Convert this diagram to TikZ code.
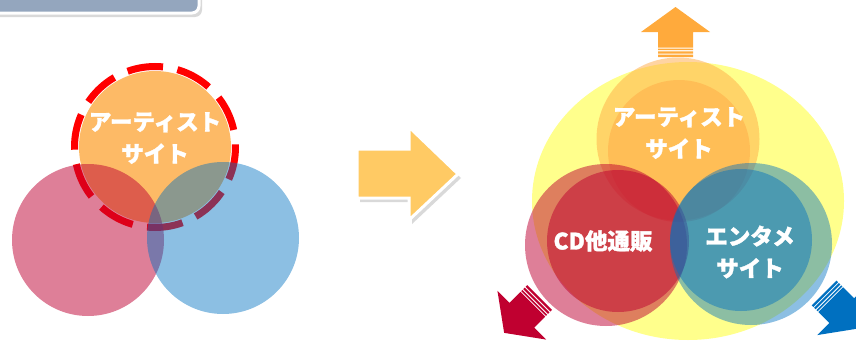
\documentclass[tikz,border=0pt]{standalone}
\usepackage{fontspec}
\usetikzlibrary{shadows,shapes.geometric}
\newfontfamily\jpfont[BoldFeatures={FakeBold=1.5}]{Noto Sans CJK JP}
\definecolor{cdred}{RGB}{190,0,50}
\definecolor{entblue}{RGB}{0,112,192}
\definecolor{artorange}{RGB}{252,140,0}
\definecolor{artlight}{RGB}{255,170,70}
\definecolor{paleyellow}{RGB}{255,255,140}
\definecolor{slate}{RGB}{148,166,190}
\definecolor{gold}{RGB}{255,202,100}
\definecolor{uporange}{RGB}{255,170,60}
\definecolor{downred}{RGB}{192,0,48}
\definecolor{downblue}{RGB}{0,112,192}
\tikzset{
    every node/.style={inner sep=0pt, outer sep=0pt},
    disc/.style={circle, minimum size=#1},
    lbl/.style={font=\jpfont\bfseries\fontsize{22.5}{32}\selectfont, text=white, align=center},
    art/.style={fill=artorange, fill opacity=0.6},
    artb/.style={fill=artlight, fill opacity=0.5},
    cd/.style={fill=cdred, fill opacity=0.5},
    ent/.style={fill=entblue, fill opacity=0.45},
    focus/.style={draw=red, line width=7pt, dash pattern=on 36pt off 14.6pt, dash phase=33.4pt},
    shade/.style={drop shadow={opacity=0.3, shadow xshift=3pt, shadow yshift=-4pt}}
}
% striped arrow: colour, tail x, tail y, angle
\newcommand\outarrow[4]{%
  \begin{scope}[shift={(#2,#3)}, rotate=#4]
    \fill[#1] (9.5,-17.5) -- (25,-17.5) -- (25,-34.5) -- (50,0) -- (25,34.5)
      -- (25,17.5) -- (9.5,17.5) -- cycle;
    \fill[#1] (0,-17.5) rectangle (2.3,17.5) (3.4,-17.5) rectangle (5.6,17.5)
      (6.8,-17.5) rectangle (8.4,17.5);
  \end{scope}}

\begin{document}
\begin{tikzpicture}[x=1pt, y=-1pt]
\useasboundingbox (0,0) rectangle (856,340);
\clip (0,0) rectangle (856,340);

% title box, cut at the top
\draw[fill=slate, draw=white, line width=3pt, rounded corners=7pt, shade]
  (-20,-30) rectangle (199,13);

% before
\node[disc=161pt, focus] (ring) at (155,147) {};
\node[disc=152pt, art] (art1) at (155,147) {};
\node[disc=152pt, cd] (cd1) at (88,240) {};
\node[disc=152pt, ent] (ent1) at (223,238) {};
\node[lbl] (t1) at (155,138) {アーティスト\\サイト};

% big arrow
\draw[fill=gold, draw=white, line width=3pt, shade]
  (357,149) -- (409,149) -- (409,127) -- (458,174) -- (409,220) -- (409,198)
  -- (357,198) -- cycle;

% after
\node[ellipse, minimum width=312pt, minimum height=278pt, fill=paleyellow] (all) at (688,201) {};
\node[disc=163pt, artb] (art2) at (678,139) {};
\node[disc=142pt, artb] (art3) at (679,151) {};
\node[disc=162pt, cd] (cd2) at (606,245) {};
\node[disc=142pt, cd] (cd3) at (618,241) {};
\node[disc=162pt, ent] (ent2) at (751,244) {};
\node[disc=142pt, ent] (ent3) at (741,240) {};
\node[lbl] (t2) at (679,133) {アーティスト\\サイト};
\node[lbl] (t3) at (603,241) {CD他通販};
\node[lbl] (t4) at (750,252) {エンタメ\\サイト};

\outarrow{uporange}{675.5}{57}{90}
\outarrow{downred}{539.5}{297.5}{225}
\outarrow{downblue}{824}{293}{-45}
\end{tikzpicture}
\end{document}
